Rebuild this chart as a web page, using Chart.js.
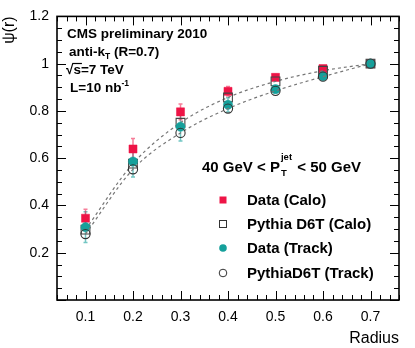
<!DOCTYPE html>
<html><head><meta charset="utf-8">
<script src="https://cdn.jsdelivr.net/npm/chart.js@4.4.1/dist/chart.umd.min.js"></script>
<style>html,body{margin:0;padding:0;background:#fff}#wrap{width:415px;height:348px;position:relative}</style>
</head><body><div id="wrap"><canvas id="c" width="415" height="348"></canvas></div>
<script>
const radius = [0.1, 0.2, 0.3, 0.4, 0.5, 0.6, 0.7];
const dataCalo = [0.346, 0.639, 0.796, 0.883, 0.942, 0.979, 1.0];
const dataCaloErr = [0.038, 0.044, 0.033, 0.02, 0.012, 0.008, 0.0];
const pythiaCalo = [0.298, 0.577, 0.75, 0.857, 0.925, 0.97, 1.0];
const dataTrack = [0.308, 0.586, 0.733, 0.826, 0.892, 0.947, 1.0];
const dataTrackErr = [0.065, 0.066, 0.06, 0.03, 0.015, 0.01, 0.0];
const pythiaTrack = [0.279, 0.553, 0.707, 0.81, 0.885, 0.945, 1.0];
const xTickValues = [0.1, 0.2, 0.3, 0.4, 0.5, 0.6, 0.7];
const yTickValues = [0.2, 0.4, 0.6, 0.8, 1.0, 1.2];
const legendLabels = ['Data (Calo)', 'Pythia D6T (Calo)', 'Data (Track)', 'PythiaD6T (Track)'];

const RED = '#ee1446', TEAL = '#15a09b';
const FONT = '"Liberation Sans", Arial, Helvetica, sans-serif';
const pts = (ys) => radius.map((x, i) => ({x, y: ys[i]}));

const innerTicks = {
  id: 'innerTicks',
  afterDraw(chart) {
    const ctx = chart.ctx, a = chart.chartArea, xs = chart.scales.x, ys = chart.scales.y;
    ctx.save();
    ctx.strokeStyle = '#000'; ctx.lineWidth = 1;
    for (let v = 0.04; v <= 0.761; v += 0.02) {
      const vv = Math.round(v * 100) / 100;
      const major = Math.abs(vv * 10 - Math.round(vv * 10)) < 1e-6;
      const L = major ? 9 : 5;
      const px = Math.round(xs.getPixelForValue(vv)) + 0.5;
      ctx.beginPath();
      ctx.moveTo(px, a.bottom); ctx.lineTo(px, a.bottom - L);
      ctx.moveTo(px, a.top); ctx.lineTo(px, a.top + L);
      ctx.stroke();
    }
    for (let v = 0; v <= 1.2001; v += 0.05) {
      const vv = Math.round(v * 100) / 100;
      const major = Math.abs(vv * 5 - Math.round(vv * 5)) < 1e-6;
      const L = major ? 9 : 5;
      const py = Math.round(ys.getPixelForValue(vv)) + 0.5;
      ctx.beginPath();
      ctx.moveTo(a.left, py); ctx.lineTo(a.left + L, py);
      ctx.moveTo(a.right, py); ctx.lineTo(a.right - L, py);
      ctx.stroke();
    }
    ctx.lineWidth = 1.6;
    ctx.strokeRect(a.left, a.top, a.right - a.left, a.bottom - a.top);
    ctx.restore();
  }
};

const errorBars = {
  id: 'errorBars',
  beforeDatasetsDraw(chart) {
    const ctx = chart.ctx, xs = chart.scales.x, ys = chart.scales.y;
    const sets = [[dataTrack, dataTrackErr, 'rgba(21,160,155,0.6)'], [dataCalo, dataCaloErr, 'rgba(238,20,70,0.55)']];
    ctx.save();
    ctx.lineWidth = 1.5;
    sets.forEach(([vals, errs, col]) => {
      ctx.strokeStyle = col;
      radius.forEach((x, i) => {
        if (!errs[i]) return;
        const px = xs.getPixelForValue(x);
        const y1 = ys.getPixelForValue(vals[i] + errs[i]);
        const y2 = ys.getPixelForValue(vals[i] - errs[i]);
        ctx.beginPath();
        ctx.moveTo(px, y1); ctx.lineTo(px, y2);
        ctx.moveTo(px - 2, y1); ctx.lineTo(px + 2, y1);
        ctx.moveTo(px - 2, y2); ctx.lineTo(px + 2, y2);
        ctx.stroke();
      });
    });
    ctx.restore();
  }
};

const annotations = {
  id: 'annotations',
  afterDraw(chart) {
    const ctx = chart.ctx;
    ctx.save();
    ctx.fillStyle = '#000';
    ctx.textBaseline = 'alphabetic';
    const seq = (parts, x, y) => {
      let cx = x;
      parts.forEach(p => {
        ctx.font = p.f;
        ctx.fillText(p.t, cx, y + (p.dy || 0));
        cx += ctx.measureText(p.t).width;
      });
      return cx;
    };
    const B = (s) => 'bold ' + s + 'px ' + FONT;
    seq([{t: 'CMS preliminary 2010', f: B(13.5)}], 67, 38);
    seq([{t: 'anti-k', f: B(13.5)}, {t: 'T', f: B(8.5), dy: 3}, {t: ' (R=0.7)', f: B(13.5)}], 69, 56);
    // sqrt s
    ctx.font = B(13.5);
    const rx = 66;
    ctx.fillText('\u221A', rx, 74);
    const sw = ctx.measureText('\u221A').width;
    const sx = rx + sw;
    const swid = ctx.measureText('s').width;
    ctx.lineWidth = 1.2;
    ctx.beginPath(); ctx.moveTo(sx - 1, 63.5); ctx.lineTo(sx + swid + 1, 63.5); ctx.stroke();
    ctx.fillText('s=7 TeV', sx, 74);
    seq([{t: 'L=10 nb', f: B(13.5)}, {t: '-1', f: B(8.5), dy: -6}], 70, 92);
    // pt range
    seq([{t: '40 GeV < P', f: B(15)}], 202, 172);
    ctx.font = B(15);
    const px0 = 202 + ctx.measureText('40 GeV < P').width;
    ctx.font = B(9.5);
    ctx.fillText('jet', px0 + 1, 160);
    ctx.fillText('T', px0 + 1, 176);
    const jw = ctx.measureText('jet').width;
    ctx.font = B(15);
    ctx.fillText(' < 50 GeV', px0 + jw + 2, 172);
    // legend
    const lx = 223, tx = 247, rows = [200, 224, 248, 273];
    ctx.font = B(15);
    legendLabels.forEach((t, i) => ctx.fillText(t, tx, rows[i] + 5));
    ctx.fillStyle = RED;
    ctx.fillRect(lx - 3.5, rows[0] - 3.5, 7, 7);
    ctx.strokeStyle = '#333'; ctx.lineWidth = 1;
    ctx.strokeRect(lx - 3.5, rows[1] - 3.5, 7, 7);
    ctx.fillStyle = TEAL;
    ctx.beginPath(); ctx.arc(lx, rows[2], 3.8, 0, Math.PI * 2); ctx.fill();
    ctx.beginPath(); ctx.arc(lx, rows[3], 3.8, 0, Math.PI * 2); ctx.stroke();
    ctx.restore();
  }
};

new Chart(document.getElementById('c'), {
  type: 'scatter',
  data: {
    datasets: [
      {label: legendLabels[0], data: pts(dataCalo), pointStyle: 'rect', pointRadius: 5.7,
       backgroundColor: RED, borderColor: RED, borderWidth: 0.5, showLine: false, order: 4},
      {label: legendLabels[1], data: pts(pythiaCalo), pointStyle: 'rect', pointRadius: 6.2,
       backgroundColor: 'rgba(255,255,255,0)', pointBorderColor: '#444', pointBorderWidth: 1.1,
       showLine: true, borderColor: '#777', borderWidth: 1.2, borderDash: [3, 3],
       cubicInterpolationMode: 'monotone', order: 3},
      {label: legendLabels[2], data: pts(dataTrack), pointStyle: 'circle', pointRadius: 4.6,
       backgroundColor: TEAL, borderColor: TEAL, borderWidth: 0.5, showLine: false, order: 2},
      {label: legendLabels[3], data: pts(pythiaTrack), pointStyle: 'circle', pointRadius: 4.6,
       backgroundColor: 'rgba(255,255,255,0)', pointBorderColor: '#333', pointBorderWidth: 1.1,
       showLine: true, borderColor: '#777', borderWidth: 1.2, borderDash: [3, 3],
       cubicInterpolationMode: 'monotone', order: 1}
    ]
  },
  options: {
    responsive: false,
    animation: false,
    layout: {padding: {left: 0, top: 12, right: 16, bottom: 0}},
    plugins: {legend: {display: false}, tooltip: {enabled: false}},
    scales: {
      x: {
        type: 'linear', min: 0.04, max: 0.76,
        grid: {display: false, drawTicks: false}, border: {display: false},
        afterBuildTicks: (s) => { s.ticks = xTickValues.map(v => ({value: v})); },
        afterFit: (s) => { s.height = 48; },
        ticks: {color: '#000', font: {family: FONT, size: 14}, padding: 9, maxRotation: 0,
                callback: (v) => String(Math.round(v * 10) / 10)},
        title: {display: true, text: 'Radius', align: 'end', color: '#000',
                font: {family: FONT, size: 16}, padding: {top: 0, bottom: 0}}
      },
      y: {
        type: 'linear', min: 0, max: 1.2,
        grid: {display: false, drawTicks: false}, border: {display: false},
        afterBuildTicks: (s) => { s.ticks = yTickValues.map(v => ({value: v})); },
        afterFit: (s) => { s.width = 57; },
        ticks: {color: '#000', font: {family: FONT, size: 14}, padding: 8,
                callback: (v) => String(Math.round(v * 10) / 10)},
        title: {display: true, text: '\u03C8(r)', align: 'end', color: '#000',
                font: {family: FONT, size: 16}, padding: {top: 0, bottom: 0}}
      }
    }
  },
  plugins: [errorBars, innerTicks, annotations]
});
</script></body></html>
